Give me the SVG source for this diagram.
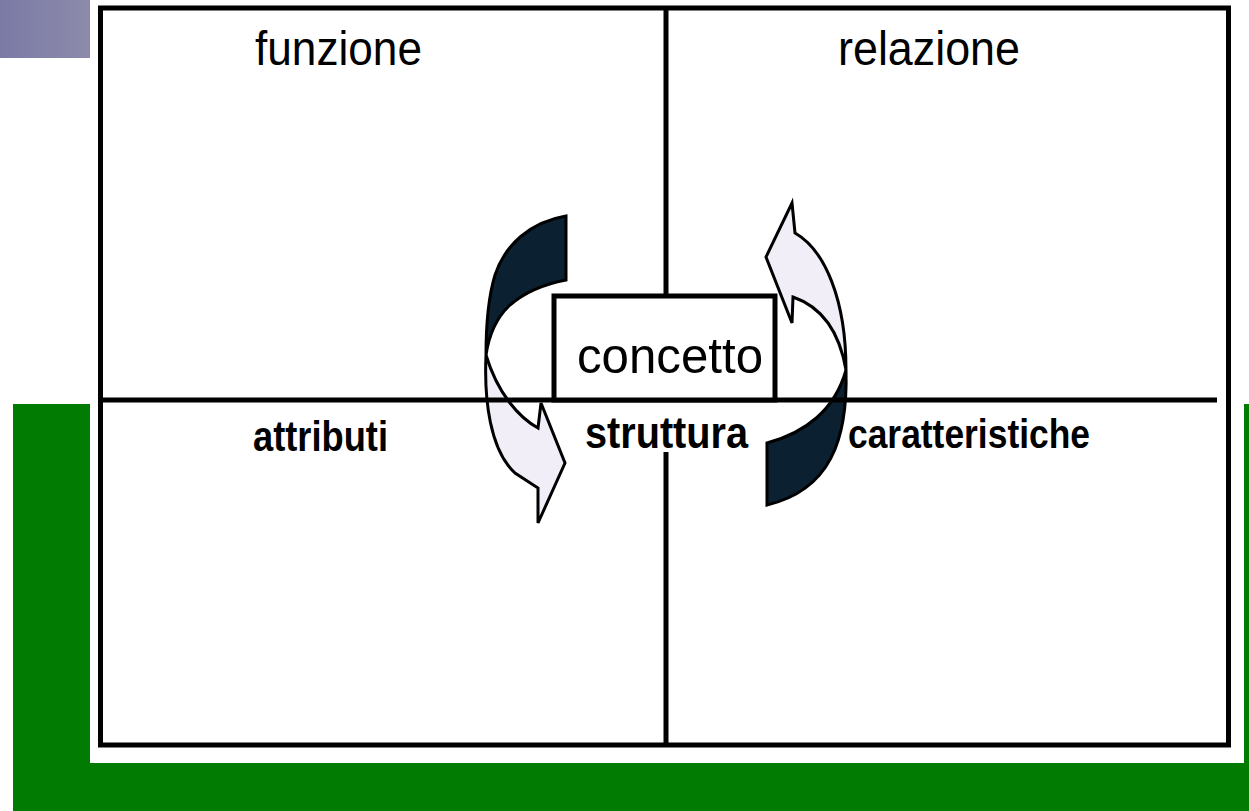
<svg xmlns="http://www.w3.org/2000/svg" width="1249" height="811" viewBox="0 0 1249 811">
<defs>
<linearGradient id="pg" x1="0" y1="0" x2="1" y2="0">
<stop offset="0" stop-color="#7b7aa5"/>
<stop offset="1" stop-color="#8c8bab"/>
</linearGradient>
</defs>
<style>
.grid{stroke:#000;stroke-width:5;fill:none}
.lbl{font-family:"Liberation Sans",Arial,sans-serif;fill:#000}
.b{font-weight:bold}
.dark{fill:#0b2030;stroke:#000;stroke-width:3;stroke-linejoin:miter}
.light{fill:#f2eef8;stroke:#000;stroke-width:3;stroke-linejoin:miter}
</style>
<rect x="0" y="0" width="1249" height="811" fill="#fff"/>
<g id="background">
<rect x="13" y="404" width="1236" height="407" fill="#027b02"/>
<rect x="90" y="0" width="1154" height="763" fill="#fff"/>
<rect x="0" y="0" width="90" height="58" fill="url(#pg)"/>
</g>
<g id="frame">
<rect class="grid" x="100.5" y="8" width="1128" height="737"/>
<line class="grid" x1="666" y1="8" x2="666" y2="296"/>
<line class="grid" x1="666" y1="452" x2="666" y2="745"/>
</g>
<g id="connectors">
<g id="arrow-left">
<path class="dark" d="M566,216 C530,222 505,245 495,275 C488,298 486,325 486,355 C489,335 496,318 510,305 C525,292 545,284 566,280 Z"/>
<path class="light" d="M486,355 C484,400 490,450 515,473 L538,488 L538,523 L565,463 L541,403 L538,428 C520,418 498,395 486,355 Z"/>
</g>
<g id="arrow-right">
<path class="light" d="M792,203 L795,233 C825,250 846,300 846,370 C840,335 825,308 793,297 L792,323 L766,257 Z"/>
<path class="dark" d="M846,370 C848,440 830,490 767,505 L767,443 C805,433 835,410 846,370 Z"/>
</g>
</g>
<g id="divider">
<line class="grid" x1="100" y1="400" x2="1217" y2="400"/>
</g>
<g id="node-concetto">
<rect x="554" y="296" width="221" height="104" fill="#fff" stroke="#000" stroke-width="5"/>
<text class="lbl" x="577" y="373" font-size="50" textLength="186" lengthAdjust="spacingAndGlyphs">concetto</text>
</g>
<g id="node-funzione">
<text class="lbl" x="255" y="65" font-size="48" textLength="167" lengthAdjust="spacingAndGlyphs">funzione</text>
</g>
<g id="node-relazione">
<text class="lbl" x="838" y="65" font-size="48" textLength="182" lengthAdjust="spacingAndGlyphs">relazione</text>
</g>
<g id="node-attributi">
<text class="lbl b" x="253" y="451" font-size="42" textLength="135" lengthAdjust="spacingAndGlyphs">attributi</text>
</g>
<g id="node-struttura">
<text class="lbl b" x="585" y="448" font-size="44" textLength="163" lengthAdjust="spacingAndGlyphs">struttura</text>
</g>
<g id="node-caratteristiche">
<text class="lbl b" x="848" y="448" font-size="40" textLength="242" lengthAdjust="spacingAndGlyphs">caratteristiche</text>
</g>
</svg>
